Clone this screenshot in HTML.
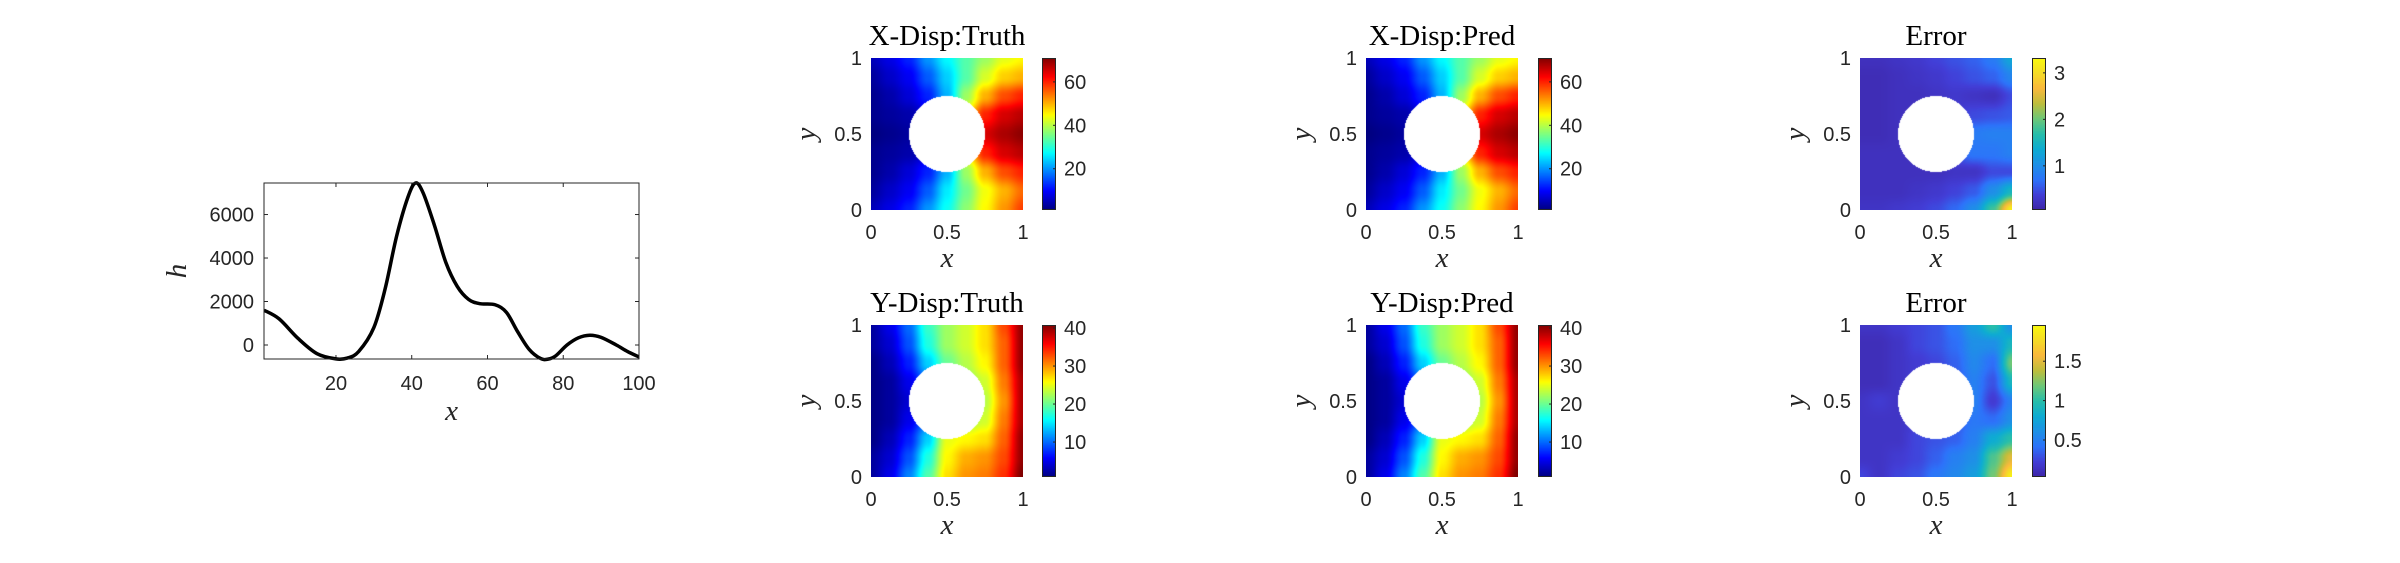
<!DOCTYPE html>
<html><head><meta charset="utf-8">
<style>
html,body{margin:0;padding:0;background:#fff;}
#wrap{position:relative;width:2400px;height:563px;overflow:hidden;background:#fff;}
svg{position:absolute;left:0;top:0;z-index:2;}
canvas{position:absolute;z-index:1;}
.tk{font-family:"Liberation Sans",sans-serif;font-size:20px;fill:#262626;}
.ttl{font-family:"Liberation Serif",serif;font-size:29px;fill:#000;}
.lab{font-family:"Liberation Serif",serif;font-style:italic;font-size:29px;fill:#262626;}
</style></head>
<body>
<div id="wrap">
<svg id="svg" width="2400" height="563"></svg>
</div>
<script>
// ---- line chart data ----
const lineX = [1,5,10,15,20,23,26,30,33,36,39,41,43,46,49,52,55,58,62,65,68,71,74,76,78,81,84,87,90,94,97,100];
const lineY = [1600,1200,300,-400,-640,-600,-300,800,2600,5000,6800,7450,7000,5500,3800,2700,2100,1900,1850,1500,600,-200,-620,-650,-500,0,330,450,350,0,-300,-550];
const lineXTicks = [20,40,60,80,100];
const lineYTicks = [0,2000,4000,6000];

// ---- heatmap grids (rows: y=1 top -> y=0 bottom; cols x=0..1) ----
const xDispTruth = [
[5,8,12,20,27,33,38,43,45],
[3,6,9,16,24,33,42,48,50],
[2,4,7,12,22,38,50,57,60],
[2,3,4,7,20,45,60,65,67],
[1,2,3,5,20,50,65,68,70],
[2,3,4,7,20,45,60,65,67],
[2,4,7,12,22,38,50,57,60],
[3,6,9,16,26,35,44,50,55],
[5,8,12,20,28,37,45,52,58]];
const xDispPred = [
[5,8,12,20,27,33,38,43,45],
[3,6,9,16,24,33,42,48,50],
[2,4,7,12,22,38,50,57,60],
[2,3,4,7,20,45,60,65,67],
[1,2,3,5,20,50,65,68,70],
[2,3,4,7,20,45,60,65,67],
[2,4,7,12,22,38,50,57,60],
[3,6,9,16,26,35,44,50,55],
[5,8,12,20,28,37,45,52,58]];
const xDispError = [
[.2,.2,.25,.3,.4,.5,.6,.8,1.3],
[.15,.15,.2,.25,.3,.4,.5,.6,.9],
[.15,.15,.2,.2,.25,.3,.25,.2,.45],
[.15,.15,.2,.2,.25,.3,.45,.5,.55],
[.15,.15,.2,.2,.25,.65,.8,.85,.85],
[.2,.2,.2,.2,.25,.55,.75,.75,.85],
[.2,.2,.2,.2,.2,.25,.25,.45,.45],
[.2,.2,.2,.25,.3,.4,.55,1.0,1.5],
[.25,.25,.3,.35,.45,.65,1.0,1.8,3.2]];
const yDispTruth = [
[2,5,10,18,22,24,27,33,40],
[2,4,9,17,22,24,27,32,40],
[1,3,7,14,20,23,26,32,40],
[1,2,5,10,20,21,24,31,39],
[1,2,4,8,20,20,23,30,39],
[1,2,5,10,20,22,24,31,39],
[1,3,7,14,25,26,27,32,40],
[2,4,9,17,26,29,30,33,40],
[2,5,11,19,27,30,31,34,41]];
const yDispPred = [
[2,5,10,18,22,24,27,33,40],
[2,4,9,17,22,24,27,32,40],
[1,3,7,14,20,23,26,32,40],
[1,2,5,10,20,21,24,31,39],
[1,2,4,8,20,20,23,30,39],
[1,2,5,10,20,22,24,31,39],
[1,3,7,14,25,26,27,32,40],
[2,4,9,17,26,29,30,33,40],
[2,5,11,19,27,30,31,34,41]];
const yDispError = [
[.15,.15,.2,.25,.3,.45,.7,1.0,.6],
[.1,.1,.15,.25,.3,.4,.6,.6,.9],
[.1,.1,.15,.2,.25,.35,.55,.4,1.2],
[.1,.1,.15,.2,.25,.3,.5,.3,.9],
[.15,.2,.15,.15,.2,.25,.5,.2,.5],
[.15,.15,.15,.2,.25,.3,.45,.4,.6],
[.15,.15,.15,.25,.3,.35,.5,.8,1.0],
[.15,.15,.2,.25,.35,.5,.6,1.1,1.5],
[.25,.15,.25,.3,.45,.55,.7,1.2,1.9]];
const cbTicksXDisp = [20,40,60];
const cbTicksYDisp = [10,20,30,40];
const cbTicksXErr = [1,2,3];
const cbTicksYErr = [0.5,1,1.5];
const cbRangeXDisp = [1,71];
const cbRangeYDisp = [0.8,40.8];
const cbRangeXErr = [0.05,3.32];
const cbRangeYErr = [0.03,1.96];

const NS="http://www.w3.org/2000/svg";
const svg=document.getElementById('svg');
const wrap=document.getElementById('wrap');
function mk(tag,attrs,parent,text){const e=document.createElementNS(NS,tag);for(const k in attrs)e.setAttribute(k,attrs[k]);if(text!==undefined)e.textContent=text;(parent||svg).appendChild(e);return e;}

// ---- line chart ----
(function(){
const L=264,R=639,T=183,B=359;
const xmin=1,xmax=100,ymin=-644,ymax=7450;
const sx=v=>L+(v-xmin)/(xmax-xmin)*(R-L);
const sy=v=>B-(v-ymin)/(ymax-ymin)*(B-T);
const g=mk('g',{});


lineXTicks.forEach(t=>{
  const x=sx(t);
  mk('line',{x1:x,x2:x,y1:B,y2:B-4,stroke:'#262626','stroke-width':1},g);
  mk('line',{x1:x,x2:x,y1:T,y2:T+4,stroke:'#262626','stroke-width':1},g);
  const tx=mk('text',{x:x,y:B+31,'text-anchor':'middle',class:'tk'},g,String(t));
  
  
});
lineYTicks.forEach(t=>{
  const y=sy(t);
  mk('line',{x1:L,x2:L+4,y1:y,y2:y,stroke:'#262626','stroke-width':1},g);
  mk('line',{x1:R,x2:R-4,y1:y,y2:y,stroke:'#262626','stroke-width':1},g);
  const tx=mk('text',{x:L-10,y:y+7,'text-anchor':'end',class:'tk'},g,String(t));
  
  
});
const pts=lineX.map((x,i)=>[sx(x),sy(lineY[i])]);
let d='M'+pts[0][0]+','+pts[0][1];
for(let i=0;i<pts.length-1;i++){
  const p0=pts[Math.max(0,i-1)],p1=pts[i],p2=pts[i+1],p3=pts[Math.min(pts.length-1,i+2)];
  const c1=[p1[0]+(p2[0]-p0[0])/6,p1[1]+(p2[1]-p0[1])/6];
  const c2=[p2[0]-(p3[0]-p1[0])/6,p2[1]-(p3[1]-p1[1])/6];
  d+=` C${c1[0]},${c1[1]} ${c2[0]},${c2[1]} ${p2[0]},${p2[1]}`;
}
const cp=mk('clipPath',{id:'lineclip'},g);
mk('rect',{x:L,y:T-3,width:R-L,height:B-T+6},cp);
const path=mk('path',{d:d,fill:'none',stroke:'#000','stroke-width':3.5,'stroke-linejoin':'round','clip-path':'url(#lineclip)'},g);


const fr=mk('rect',{x:L,y:T,width:R-L,height:B-T,fill:'none',stroke:'#262626','stroke-width':1},g);


const xl=mk('text',{x:(L+R)/2,y:420,'text-anchor':'middle',class:'lab'},g,'x');


const yl=mk('text',{x:0,y:0,'text-anchor':'middle',class:'lab',transform:`translate(186,${(T+B)/2}) rotate(-90)`},g,'h');


})();

// ---- colormaps ----
function jet(t){t=Math.max(0,Math.min(1,t));
  const r=Math.max(0,Math.min(1,1.5-Math.abs(4*t-3)));
  const g=Math.max(0,Math.min(1,1.5-Math.abs(4*t-2)));
  const b=Math.max(0,Math.min(1,1.5-Math.abs(4*t-1)));
  return [r*255,g*255,b*255];}
const PAR=[[0,62,38,168],[0.1,66,62,215],[0.2,45,115,250],[0.3,30,145,230],[0.4,14,172,210],[0.5,40,190,170],[0.6,110,200,120],[0.7,190,190,60],[0.8,250,185,60],[0.9,245,220,40],[1,249,251,14]];
function parula(t){t=Math.max(0,Math.min(1,t));
  for(let i=0;i<PAR.length-1;i++){const a=PAR[i],b=PAR[i+1];
    if(t<=b[0]){const f=(t-a[0])/(b[0]-a[0]);return [a[1]+f*(b[1]-a[1]),a[2]+f*(b[2]-a[2]),a[3]+f*(b[3]-a[3])];}}
  return [249,251,14];}

function sample(grid,u,v){
  const n=grid[0].length-1,m=grid.length-1;
  const fx=u*n, fy=(1-v)*m;
  const i=Math.min(n-1,Math.floor(fx)), j=Math.min(m-1,Math.floor(fy));
  const a=fx-i,b=fy-j;
  const s=x=>x*x*(3-2*x);
  const A=s(a),Bb=s(b);
  return grid[j][i]*(1-A)*(1-Bb)+grid[j][i+1]*A*(1-Bb)+grid[j+1][i]*(1-A)*Bb+grid[j+1][i+1]*A*Bb;
}

function panel(o){
  const {L,T,S,cbL,title,grid,range,ticks,cmap,name}=o;
  const R=L+S,B=T+S;
  const g=mk('g',{});
  
  
  const c=document.createElement('canvas');
  c.width=S;c.height=S;c.style.left=L+'px';c.style.top=T+'px';
  
  
  const ctx=c.getContext('2d');const im=ctx.createImageData(S,S);
  for(let py=0;py<S;py++)for(let px=0;px<S;px++){
    const u=(px+0.5)/S,v=1-(py+0.5)/S;
    const k=(py*S+px)*4;
    if((u-0.5)**2+(v-0.5)**2<0.0625){im.data[k]=255;im.data[k+1]=255;im.data[k+2]=255;im.data[k+3]=255;continue;}
    const val=sample(grid,u,v);
    const col=cmap((val-range[0])/(range[1]-range[0]));
    im.data[k]=col[0];im.data[k+1]=col[1];im.data[k+2]=col[2];im.data[k+3]=255;
  }
  ctx.putImageData(im,0,0);wrap.appendChild(c);
  const cw=14;
  const cb=document.createElement('canvas');
  cb.width=cw;cb.height=S;cb.style.left=cbL+'px';cb.style.top=T+'px';
  
  
  const cc=cb.getContext('2d');
  for(let py=0;py<S;py++){const col=cmap(1-(py+0.5)/S);cc.fillStyle=`rgb(${col[0]|0},${col[1]|0},${col[2]|0})`;cc.fillRect(0,py,cw,1);}
  wrap.appendChild(cb);
  mk('rect',{x:cbL+0.5,y:T+0.5,width:cw-1,height:S-1,fill:'none',stroke:'#262626','stroke-width':1},g);
  ticks.forEach(t=>{
    const y=B-(t-range[0])/(range[1]-range[0])*S;
    mk('line',{x1:cbL+cw-3,x2:cbL+cw,y1:y,y2:y,stroke:'#262626'},g);
    const tx=mk('text',{x:cbL+cw+8,y:y+7,class:'tk'},g,String(t));
    
    
  });
  [[0,'0'],[0.5,'0.5'],[1,'1']].forEach(([t,s])=>{
    const x=L+t*S,y=B-t*S;
    const a=mk('text',{x:x,y:B+29,'text-anchor':'middle',class:'tk'},g,s);
    
    
    const b=mk('text',{x:L-9,y:y+7,'text-anchor':'end',class:'tk'},g,s);
    
    
  });
  const tt=mk('text',{x:(L+R)/2,y:T-13,'text-anchor':'middle',class:'ttl'},g,title);
  
  
  const xl=mk('text',{x:(L+R)/2,y:B+57,'text-anchor':'middle',class:'lab'},g,'x');
  
  
  const yl=mk('text',{x:0,y:0,'text-anchor':'middle',class:'lab',transform:`translate(${L-56},${(T+B)/2}) rotate(-90)`},g,'y');
  
  
}
const S=152;
panel({L:871,T:58,S,cbL:1042,title:'X-Disp:Truth',grid:xDispTruth,range:cbRangeXDisp,ticks:cbTicksXDisp,cmap:jet,name:'x-disp-truth'});
panel({L:1366,T:58,S,cbL:1538,title:'X-Disp:Pred',grid:xDispPred,range:cbRangeXDisp,ticks:cbTicksXDisp,cmap:jet,name:'x-disp-pred'});
panel({L:1860,T:58,S,cbL:2032,title:'Error',grid:xDispError,range:cbRangeXErr,ticks:cbTicksXErr,cmap:parula,name:'x-disp-error'});
panel({L:871,T:325,S,cbL:1042,title:'Y-Disp:Truth',grid:yDispTruth,range:cbRangeYDisp,ticks:cbTicksYDisp,cmap:jet,name:'y-disp-truth'});
panel({L:1366,T:325,S,cbL:1538,title:'Y-Disp:Pred',grid:yDispPred,range:cbRangeYDisp,ticks:cbTicksYDisp,cmap:jet,name:'y-disp-pred'});
panel({L:1860,T:325,S,cbL:2032,title:'Error',grid:yDispError,range:cbRangeYErr,ticks:cbTicksYErr,cmap:parula,name:'y-disp-error'});
</script>
</body></html>
